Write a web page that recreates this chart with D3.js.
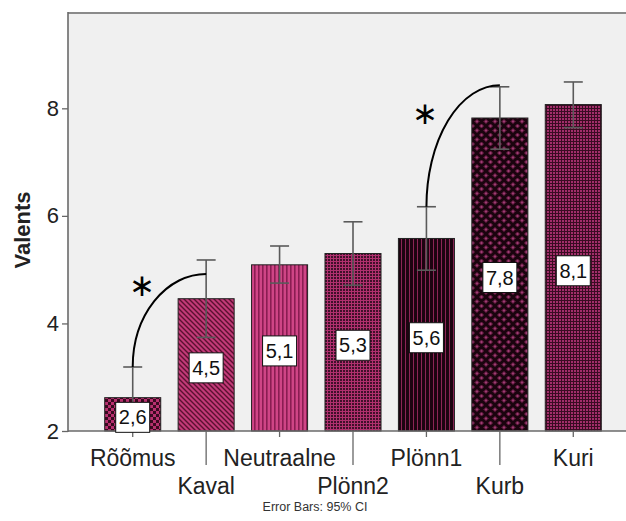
<!DOCTYPE html>
<html>
<head>
<meta charset="utf-8">
<script src="https://cdn.jsdelivr.net/npm/d3@7"></script>
<style>
  html, body { margin: 0; padding: 0; background: #ffffff; }
  svg { display: block; }
  text { font-family: Arial, "Liberation Sans", sans-serif; }
</style>
</head>
<body>
<svg id="chart" width="626" height="521"></svg>
<script>
// Mean valence per stimulus group with 95% confidence limits
const categories = ["Rõõmus", "Kaval", "Neutraalne", "Plönn2", "Plönn1", "Kurb", "Kuri"];
const means      = [2.62, 4.46, 5.09, 5.30, 5.58, 7.82, 8.07];
const ciLower    = [2.05, 3.74, 4.75, 4.71, 4.99, 7.24, 7.64];
const ciUpper    = [3.19, 5.18, 5.44, 5.89, 6.17, 8.40, 8.49];
const yTicks     = [2, 4, 6, 8];
const yLabel     = "Valents";
const footnote   = "Error Bars: 95% CI";

// Significant pairwise differences: bracket from one bar's upper CI to the next
const comparisons = [
  { from: 0, to: 1, endValue: 4.92, starValue: 4.70 },
  { from: 4, to: 5, endValue: 8.43, starValue: 7.91 }
];

const svg = d3.select("#chart");
const plot = { left: 68, top: 13, right: 626, bottom: 431 };

const x = d3.scaleBand()
  .domain(categories)
  .range([96, 610])
  .paddingInner(0.237)
  .paddingOuter(0.1185);

const y = d3.scaleLinear()
  .domain([2, 2 + (plot.bottom - plot.top) / 53.78])
  .range([plot.bottom, plot.top]);

// ---- fill patterns for the bars ----
const defs = svg.append("defs");
const deep = "#3a0a20";

function pat(id, w, h) {
  return defs.append("pattern").attr("id", id)
    .attr("patternUnits", "userSpaceOnUse").attr("width", w).attr("height", h);
}
// checker
let p = pat("p0", 6, 6);
p.append("rect").attr("width", 6).attr("height", 6).attr("fill", "#b8306f");
p.append("rect").attr("width", 3).attr("height", 3).attr("fill", deep);
p.append("rect").attr("x", 3).attr("y", 3).attr("width", 3).attr("height", 3).attr("fill", deep);
// diagonal stripes
p = pat("p1", 5, 5);
p.append("rect").attr("width", 5).attr("height", 5).attr("fill", "#c23a78");
p.append("path").attr("d", "M-1,-1 L6,6 M-1,4 L1,6 M4,-1 L6,1")
  .attr("stroke", "#5a1030").attr("stroke-width", 1.4);
// vertical stripes (light)
p = pat("p2", 4, 4);
p.append("rect").attr("width", 4).attr("height", 4).attr("fill", "#cf4586");
p.append("rect").attr("x", 2).attr("width", 1.6).attr("height", 4).attr("fill", "#8a1d52");
// fine grid (dark)
p = pat("p3", 3, 3);
p.append("rect").attr("width", 3).attr("height", 3).attr("fill", "#40102a");
p.append("rect").attr("width", 3).attr("height", 1).attr("fill", "#b0306e");
p.append("rect").attr("width", 1).attr("height", 3).attr("fill", "#b0306e");
// vertical stripes (dark)
p = pat("p4", 4, 4);
p.append("rect").attr("width", 4).attr("height", 4).attr("fill", "#1c0410");
p.append("rect").attr("x", 1).attr("width", 1).attr("height", 4).attr("fill", "#8c2455");
// diamond lattice
p = pat("p5", 9, 9);
p.append("rect").attr("width", 9).attr("height", 9).attr("fill", "#6a1c45");
p.append("path").attr("d", "M0,0 L9,9 M9,0 L0,9 M-1,8 L1,10 M8,-1 L10,1 M-1,1 L1,-1 M8,10 L10,8")
  .attr("stroke", "#1a040e").attr("stroke-width", 2.8);
p.append("circle").attr("cx", 4.5).attr("cy", 0).attr("r", 1).attr("fill", "#a24078");
p.append("circle").attr("cx", 0).attr("cy", 4.5).attr("r", 1).attr("fill", "#a24078");
p.append("circle").attr("cx", 9).attr("cy", 4.5).attr("r", 1).attr("fill", "#a24078");
p.append("circle").attr("cx", 4.5).attr("cy", 9).attr("r", 1).attr("fill", "#a24078");
// fine grid (pink)
p = pat("p6", 3, 3);
p.append("rect").attr("width", 3).attr("height", 3).attr("fill", "#a22e6a");
p.append("rect").attr("width", 3).attr("height", 1).attr("fill", "#3a0c22");
p.append("rect").attr("width", 1).attr("height", 3).attr("fill", "#3a0c22");

// ---- plot background and frame ----
svg.append("rect")
  .attr("x", plot.left).attr("y", plot.top)
  .attr("width", plot.right - plot.left).attr("height", plot.bottom - plot.top)
  .attr("fill", "#f0f0f0");
svg.append("line")
  .attr("x1", plot.left).attr("x2", plot.right)
  .attr("y1", plot.top).attr("y2", plot.top)
  .attr("stroke", "#8a8a8a").attr("stroke-width", 2);

// ---- bars ----
svg.append("g").selectAll("rect")
  .data(categories)
  .join("rect")
  .attr("x", d => x(d))
  .attr("width", x.bandwidth())
  .attr("y", (d, i) => y(means[i]))
  .attr("height", (d, i) => y(2) - y(means[i]))
  .attr("fill", (d, i) => `url(#p${i})`)
  .attr("stroke", "#222")
  .attr("stroke-width", 1);

// ---- error bars ----
const cap = 9.5;
const eb = svg.append("g").attr("stroke", "#5a5a5a").attr("stroke-width", 1.6);
categories.forEach((c, i) => {
  const cx = x(c) + x.bandwidth() / 2;
  eb.append("line").attr("x1", cx).attr("x2", cx)
    .attr("y1", y(ciLower[i])).attr("y2", y(ciUpper[i]));
  eb.append("line").attr("x1", cx - cap).attr("x2", cx + cap)
    .attr("y1", y(ciLower[i])).attr("y2", y(ciLower[i]));
  eb.append("line").attr("x1", cx - cap).attr("x2", cx + cap)
    .attr("y1", y(ciUpper[i])).attr("y2", y(ciUpper[i]));
});

// ---- axes ----
const yAxis = svg.append("g")
  .attr("transform", `translate(${plot.left},0)`)
  .call(d3.axisLeft(y).tickValues(yTicks).tickFormat(d3.format("d")).tickSize(6).tickPadding(3));
yAxis.select(".domain").remove();
yAxis.selectAll(".tick line").attr("stroke", "#666").attr("stroke-width", 1.3);
yAxis.selectAll(".tick text")
  .attr("font-size", 22).attr("fill", "#222")
  .attr("font-family", "Arial, 'Liberation Sans', sans-serif");

svg.append("line")
  .attr("x1", plot.left).attr("x2", plot.left)
  .attr("y1", plot.top - 1).attr("y2", plot.bottom + 1)
  .attr("stroke", "#6a6a6a").attr("stroke-width", 1.6);

const xAxis = svg.append("g")
  .attr("transform", `translate(0,${plot.bottom})`)
  .call(d3.axisBottom(x).tickSizeOuter(0));
xAxis.select(".domain").remove();
xAxis.selectAll(".tick line")
  .attr("stroke", "#666").attr("stroke-width", 1.3)
  .attr("y2", (d, i) => i % 2 ? 34 : 6);
xAxis.selectAll(".tick text")
  .attr("dy", null)
  .attr("y", (d, i) => i % 2 ? 63 : 35)
  .attr("font-size", 23).attr("fill", "#222")
  .attr("font-family", "Arial, 'Liberation Sans', sans-serif");

svg.append("line")
  .attr("x1", plot.left).attr("x2", plot.right)
  .attr("y1", plot.bottom).attr("y2", plot.bottom)
  .attr("stroke", "#6a6a6a").attr("stroke-width", 1.6);

// axis title
svg.append("text")
  .attr("transform", `translate(30,${(plot.top + plot.bottom) / 2 + 8}) rotate(-90)`)
  .attr("text-anchor", "middle")
  .attr("font-size", 22).attr("font-weight", "bold").attr("fill", "#222")
  .text(yLabel);

// ---- value labels in boxes ----
const fmt = v => d3.format(".1f")(v).replace(".", ",");
const lab = svg.append("g");
categories.forEach((c, i) => {
  const cx = x(c) + x.bandwidth() / 2;
  const cy = (y(means[i]) + y(2)) / 2 + 3;
  lab.append("rect")
    .attr("x", cx - 17).attr("y", cy - 15)
    .attr("width", 34).attr("height", 30)
    .attr("fill", "#ffffff").attr("stroke", "#111").attr("stroke-width", 1);
  lab.append("text")
    .attr("x", cx).attr("y", cy + 7)
    .attr("text-anchor", "middle")
    .attr("font-size", 20).attr("fill", "#111")
    .text(fmt(means[i]));
});

// ---- significance brackets ----
const starDx = [9, -1];
comparisons.forEach((cmp, k) => {
  const x1 = x(categories[cmp.from]) + x.bandwidth() / 2;
  const y1 = y(ciUpper[cmp.from]);
  const x2 = x(categories[cmp.to]) + x.bandwidth() / 2;
  const y2 = y(cmp.endValue);
  svg.append("path")
    .attr("d", `M${x1},${y1} A${x2 - x1},${y1 - y2} 0 0 1 ${x2},${y2}`)
    .attr("fill", "none").attr("stroke", "#000").attr("stroke-width", 2);
  svg.append("text")
    .attr("x", x1 + starDx[k]).attr("y", y(cmp.starValue))
    .attr("text-anchor", "middle")
    .attr("dominant-baseline", "central")
    .attr("font-family", "'DejaVu Sans', sans-serif")
    .attr("font-size", 31).attr("fill", "#000")
    .text("∗");
});

// ---- footnote ----
svg.append("text")
  .attr("x", 315).attr("y", 511)
  .attr("text-anchor", "middle")
  .attr("font-size", 12.5).attr("fill", "#333")
  .text(footnote);
</script>
</body>
</html>
